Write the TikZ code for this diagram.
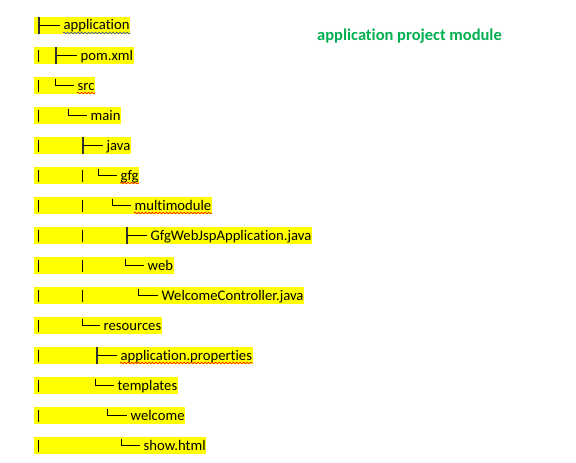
\documentclass[tikz,border=0pt]{standalone}
\usepackage{fontspec}
\setmainfont{Carlito}[Ligatures=NoCommon]
\usetikzlibrary{backgrounds,decorations.pathmorphing}

\definecolor{hlyellow}{HTML}{FFFF00}
\definecolor{titlegreen}{HTML}{00B050}
\definecolor{grammarblue}{HTML}{2F3FBF}

%% one line of the listing: name, centre y, glyph x, text x, text
\newcommand{\teerow}[5]{%
  \node[entry] (#1) at (#4,#2+4.5) {#5};
  \begin{pgfonlayer}{background}
    \fill[hl] (34,#2-8.5) rectangle (#1.east |- 0,#2+8.5);
  \end{pgfonlayer}
  \draw[teebar] (#3,#2-8.5) -- (#3,#2+8.5);
  \draw[treeline] (#3,#2) -- (#4-3,#2);
}
\newcommand{\ellrow}[5]{%
  \node[entry] (#1) at (#4,#2+4.5) {#5};
  \begin{pgfonlayer}{background}
    \fill[hl] (34,#2-8.5) rectangle (#1.east |- 0,#2+8.5);
  \end{pgfonlayer}
  \draw[treeline] (#3,#2-7) -- (#3,#2) -- (#4-3,#2);
}

\begin{document}
\begin{tikzpicture}[x=1pt,y=-1pt,
    entry/.style={anchor=base west,inner xsep=0.5pt,inner ysep=0pt,
      font=\fontsize{14.67}{17}\selectfont},
    hl/.style={fill=hlyellow},
    treeline/.style={line width=0.8pt,black},
    teebar/.style={line width=1.8pt,black!80},
    spell/.style={red,line width=0.6pt,decorate,
      decoration={snake,amplitude=0.8pt,segment length=3.5pt}}]
  \begin{pgfonlayer}{background}
    \fill[white] (0,0) rectangle (576,463);
  \end{pgfonlayer}
  \useasboundingbox (0,0) rectangle (576,463);

  %% the listing, one row every 30px
  \teerow{application}{25.5}{39}{63}{application}
  \teerow{pom}{55.5}{56}{80}{pom.xml}
  \ellrow{src}{85.5}{55}{77}{src}
  \ellrow{main}{115.5}{68}{90}{main}
  \teerow{java}{145.5}{83}{106}{java}
  \ellrow{gfg}{175.5}{98}{120}{gfg}
  \ellrow{multimodule}{205.5}{112}{134}{multimodule}
  \teerow{appjava}{235.5}{127}{150}{GfgWebJspApplication.java}
  \ellrow{web}{265.5}{125}{147}{web}
  \ellrow{controller}{295.5}{138}{161}{WelcomeController.java}
  \ellrow{resources}{325.5}{82}{103}{resources}
  \teerow{properties}{355.5}{97}{120}{application.properties}
  \ellrow{templates}{385.5}{95}{117}{templates}
  \ellrow{welcome}{415.5}{107}{130}{welcome}
  \ellrow{show}{445.5}{121}{143}{show.html}

  %% the plain bars of the outer levels
  \foreach \i in {2,...,15}
    \draw[treeline] (38,{25.5+30*(\i-1)-6}) -- ++(0,12);
  \foreach \i in {6,...,10}
    \draw[treeline] (82,{25.5+30*(\i-1)-6}) -- ++(0,12);

  %% spell check marks
  \draw[spell,grammarblue] ([yshift=-3pt]application.base west) -- ([yshift=-3pt]application.base east);
  \foreach \w in {src,gfg,multimodule,properties}
    \draw[spell] ([yshift=-3pt]\w.base west) -- ([yshift=-3pt]\w.base east);

  \node[anchor=base west,inner sep=0pt,text=titlegreen,
    font=\fontsize{16.5}{19}\selectfont\bfseries] (title) at (317,40)
    {application project module};
\end{tikzpicture}
\end{document}
